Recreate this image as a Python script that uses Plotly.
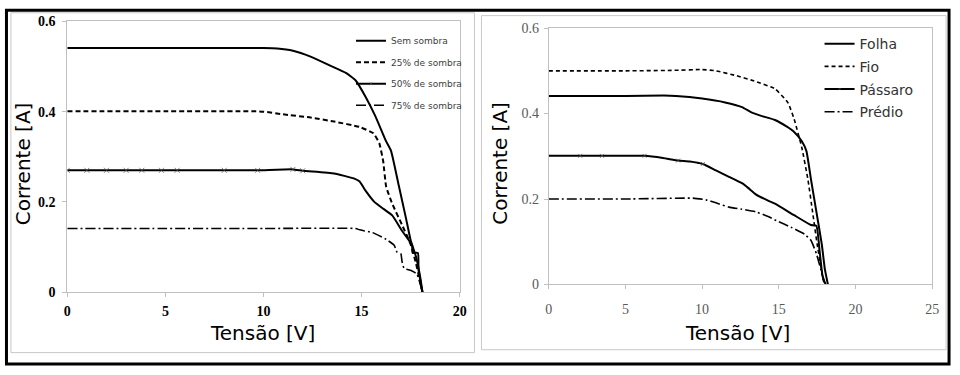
import plotly.graph_objects as go

# ---------------- data: left chart (shading levels) ----------------
sem_v = [0, 5, 10, 10.7, 11.5, 12.4, 13.4, 14.2, 14.7, 15.2, 15.7, 16.25, 16.5, 16.9, 17.26, 17.5, 17.77, 18.0, 18.1]
sem_i = [0.541, 0.541, 0.541, 0.540, 0.535, 0.522, 0.502, 0.486, 0.469, 0.433, 0.39, 0.334, 0.313, 0.235, 0.164, 0.115, 0.079, 0.03, 0.0]

s25_v = [0, 5, 9.5, 10, 11, 12.4, 13.6, 14.9, 15.6, 15.9, 16.1, 16.25, 16.56, 17.06, 17.5, 17.77, 18.1]
s25_i = [0.401, 0.401, 0.401, 0.400, 0.394, 0.387, 0.378, 0.366, 0.352, 0.33, 0.29, 0.234, 0.196, 0.149, 0.106, 0.064, 0.0]

s50_v = [0, 1, 2, 3, 3.8, 4.8, 5.6, 8.0, 9.7, 11.5, 12.0, 13.6, 14.6, 14.9, 15.2, 15.65, 16.1, 16.56, 17.06, 17.57, 17.6, 17.87, 17.9, 18.1]
s50_i = [0.27, 0.27, 0.27, 0.27, 0.27, 0.27, 0.27, 0.27, 0.27, 0.272, 0.269, 0.263, 0.252, 0.245, 0.225, 0.2, 0.185, 0.17, 0.136, 0.104, 0.087, 0.087, 0.05, 0.0]
s50_marked_upto = 12.0

s75_v = [0, 5, 10, 14.7, 14.9, 15.55, 16.25, 16.66, 16.8, 17.0, 17.06, 17.16, 17.57, 17.82, 18.1]
s75_i = [0.141, 0.141, 0.141, 0.141, 0.138, 0.132, 0.117, 0.104, 0.089, 0.085, 0.068, 0.053, 0.047, 0.04, 0.0]

left_names = ["Sem sombra", "25% de sombra", "50% de sombra", "75% de sombra"]

# ---------------- data: right chart (obstacle types) ----------------
folha_v = [0, 5, 7.5, 8.3, 10, 11.5, 12.6, 13.25, 13.9, 14.75, 15.5, 16.0, 16.5, 16.8, 17.1, 17.45, 17.8, 18.0, 18.2]
folha_i = [0.441, 0.441, 0.442, 0.441, 0.435, 0.426, 0.415, 0.402, 0.394, 0.385, 0.37, 0.357, 0.335, 0.312, 0.245, 0.17, 0.094, 0.036, 0.0]

fio_v = [0, 5, 8, 10, 10.9, 12.2, 13.5, 14.75, 15.6, 16.0, 16.5, 16.9, 17.2, 17.5, 17.85, 17.95]
fio_i = [0.5, 0.5, 0.501, 0.503, 0.5, 0.489, 0.475, 0.458, 0.425, 0.387, 0.32, 0.245, 0.17, 0.094, 0.02, 0.0]

passaro_v = [0, 2.06, 3.48, 6.25, 7.45, 8.44, 9.2, 10.05, 10.9, 11.75, 12.6, 13.0, 13.5, 14.3, 14.75, 16.0, 17.1, 17.45, 17.65, 17.85, 18.05]
passaro_i = [0.301, 0.301, 0.301, 0.301, 0.296, 0.29, 0.288, 0.282, 0.267, 0.252, 0.237, 0.226, 0.211, 0.196, 0.189, 0.162, 0.139, 0.137, 0.081, 0.02, 0.0]
passaro_marked = [2.06, 3.48, 6.25, 8.44, 10.05]

predio_v = [0, 5, 9.4, 10.25, 10.9, 11.75, 12.6, 13.5, 14.3, 14.75, 15.85, 16.7, 17.1, 17.45, 17.8, 18.0]
predio_i = [0.2, 0.2, 0.202, 0.198, 0.191, 0.181, 0.176, 0.17, 0.159, 0.151, 0.133, 0.117, 0.103, 0.072, 0.027, 0.0]

right_names = ["Folha", "Fio", "Pássaro", "Prédio"]

# ---------------- figure ----------------
W, H = 960, 375
DASHDOT = "10px,3px,2px,3px"

fig = go.Figure()

def add(x, y, name, xa, ya, legend, dash="solid", width=2.0, msizes=None, group=None):
    kw = dict(mode="lines")
    if msizes is not None:
        kw = dict(mode="lines+markers",
                  marker=dict(symbol="x-thin", size=msizes, color="#000",
                              line=dict(width=1, color="#555")))
    fig.add_trace(go.Scatter(
        x=x, y=y, name=name, xaxis=xa, yaxis=ya, legend=legend,
        legendgroup=group or name,
        line=dict(color="#000", width=width, dash=dash, shape="spline", smoothing=0.4),
        hoverinfo="skip", **kw))

add(sem_v, sem_i, left_names[0], "x", "y", "legend", width=2.0)
add(s25_v, s25_i, left_names[1], "x", "y", "legend", dash="5px,3px", width=2.0)
add(s50_v, s50_i, left_names[2], "x", "y", "legend", width=2.0,
    msizes=[5 if v <= s50_marked_upto else 0 for v in s50_v])
add(s75_v, s75_i, left_names[3], "x", "y", "legend", dash=DASHDOT, width=1.6)

add(folha_v, folha_i, right_names[0], "x2", "y2", "legend2", width=2.0)
add(fio_v, fio_i, right_names[1], "x2", "y2", "legend2", dash="4px,3px", width=1.6)
add(passaro_v, passaro_i, right_names[2], "x2", "y2", "legend2", width=2.0,
    msizes=[4 if v in passaro_marked else 0 for v in passaro_v])
add(predio_v, predio_i, right_names[3], "x2", "y2", "legend2", dash=DASHDOT, width=1.6)

def px_x(p):
    return p / W

def px_y(p):
    return 1 - p / H

GRID = "#c0c0c0"
left_tick = dict(family="Liberation Serif", size=14, color="#000", weight="bold")
right_tick = dict(family="Liberation Serif", size=14, color="#595959")

common_axis = dict(showgrid=False, zeroline=False, showline=True, mirror=True,
                   linecolor=GRID, linewidth=1, ticks="outside", ticklen=4,
                   tickcolor=GRID, fixedrange=True)

fig.update_layout(
    width=W, height=H,
    margin=dict(l=0, r=0, t=0, b=0),
    paper_bgcolor="white", plot_bgcolor="white",
    xaxis=dict(domain=[px_x(64), px_x(461)], range=[0, 20], dtick=5, anchor="y",
               tickfont=left_tick, ticklabelstandoff=2, **common_axis),
    yaxis=dict(domain=[px_y(297), px_y(15)], range=[0, 0.6], dtick=0.2, anchor="x",
               tickfont=left_tick, ticklabelstandoff=4, **common_axis),
    xaxis2=dict(domain=[px_x(551), px_x(939)], range=[0, 25], dtick=5, anchor="y2",
                tickfont=right_tick, ticklabelstandoff=8, **common_axis),
    yaxis2=dict(domain=[px_y(289), px_y(22)], range=[0, 0.6], dtick=0.2, anchor="x2",
                tickfont=right_tick, ticklabelstandoff=2, **common_axis),
    legend=dict(x=px_x(351), y=px_y(20), xanchor="left", yanchor="top",
                font=dict(family="DejaVu Sans", size=9, color="#404040"),
                bgcolor="rgba(0,0,0,0)", borderwidth=0, itemwidth=30,
                traceorder="grouped", tracegroupgap=2.5, itemclick=False),
    legend2=dict(x=px_x(825), y=px_y(22), xanchor="left", yanchor="top",
                 font=dict(family="DejaVu Sans", size=14, color="#333333"),
                 bgcolor="rgba(0,0,0,0)", borderwidth=0, itemwidth=30,
                 traceorder="grouped", tracegroupgap=1.5, itemclick=False),
    showlegend=True,
)

title_font = dict(family="DejaVu Sans", size=20, color="#000")
annots = [
    dict(text="Corrente [A]", x=px_x(20), y=px_y(163), textangle=-90),
    dict(text="Tensão [V]", x=px_x(262), y=px_y(340)),
    dict(text="Corrente [A]", x=px_x(502), y=px_y(163), textangle=-90),
    dict(text="Tensão [V]", x=px_x(742), y=px_y(340)),
]
for a in annots:
    fig.add_annotation(xref="paper", yref="paper", showarrow=False,
                       xanchor="center", yanchor="middle", font=title_font, **a)

# chart frames and outer border
fig.add_shape(type="rect", xref="paper", yref="paper",
              x0=px_x(7), x1=px_x(476), y0=px_y(360), y1=px_y(6),
              line=dict(color="#c8c8c8", width=1), layer="below")
fig.add_shape(type="rect", xref="paper", yref="paper",
              x0=px_x(483), x1=px_x(953), y0=px_y(357), y1=px_y(9),
              line=dict(color="#c8c8c8", width=1), layer="below")
fig.add_shape(type="rect", xref="paper", yref="paper",
              x0=px_x(2.5), x1=px_x(956), y0=px_y(372), y1=px_y(3.5),
              line=dict(color="#000", width=3))

fig.write_html(
    "out.html",
    config={"displayModeBar": False, "staticPlot": True},
    post_script=("document.documentElement.style.margin='0';"
                 "document.documentElement.style.overflow='hidden';"
                 "document.body.style.margin='0';document.body.style.padding='0';"
                 "document.body.style.overflow='hidden';"),
)
